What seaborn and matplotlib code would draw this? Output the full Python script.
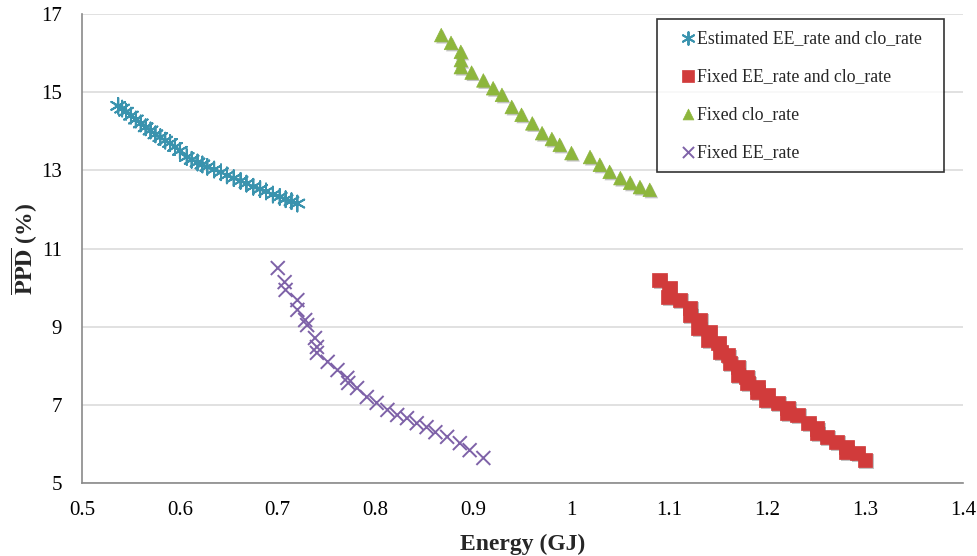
import matplotlib
matplotlib.use("Agg")
import matplotlib.pyplot as plt
import matplotlib.patheffects as pe
import seaborn as sns
import pandas as pd

# ---- data ----
est_x = [0.537, 0.541, 0.545, 0.550, 0.555, 0.560, 0.565, 0.570, 0.575, 0.580, 0.585, 0.590,
         0.595, 0.600, 0.607, 0.612, 0.618, 0.623, 0.628, 0.635, 0.642, 0.648, 0.655, 0.662,
         0.668, 0.675, 0.682, 0.688, 0.695, 0.702, 0.708, 0.714, 0.720]
est_y = [14.65, 14.58, 14.50, 14.40, 14.30, 14.20, 14.10, 14.02, 13.92, 13.85, 13.76, 13.70,
         13.60, 13.50, 13.34, 13.27, 13.20, 13.15, 13.09, 13.02, 12.95, 12.87, 12.80, 12.73,
         12.66, 12.58, 12.52, 12.46, 12.38, 12.32, 12.26, 12.21, 12.15]

fix_x = [1.090, 1.100, 1.099, 1.111, 1.121, 1.121, 1.131, 1.130, 1.141, 1.140, 1.150, 1.152,
         1.160, 1.162, 1.170, 1.170, 1.179, 1.180, 1.190, 1.190, 1.200, 1.199, 1.211, 1.221,
         1.221, 1.231, 1.242, 1.251, 1.251, 1.261, 1.271, 1.281, 1.281, 1.292, 1.300]
fix_y = [10.19, 9.99, 9.76, 9.68, 9.48, 9.30, 9.17, 8.97, 8.86, 8.66, 8.58, 8.35,
         8.27, 8.07, 7.97, 7.76, 7.71, 7.56, 7.46, 7.33, 7.25, 7.12, 7.05, 6.92,
         6.79, 6.74, 6.53, 6.40, 6.28, 6.18, 6.05, 5.92, 5.79, 5.77, 5.59]

clo_x = [0.867, 0.877, 0.887, 0.887, 0.887, 0.898, 0.910, 0.920, 0.929, 0.939, 0.949, 0.960,
         0.970, 0.980, 0.988, 1.000, 1.019, 1.029, 1.039, 1.050, 1.060, 1.070, 1.080]
clo_y = [16.46, 16.26, 16.03, 15.82, 15.64, 15.50, 15.30, 15.10, 14.93, 14.62, 14.42, 14.20,
         13.95, 13.80, 13.65, 13.44, 13.34, 13.14, 12.96, 12.80, 12.68, 12.57, 12.50]

ee_x = [0.700, 0.707, 0.708, 0.720, 0.720, 0.728, 0.730, 0.738, 0.740, 0.740, 0.751, 0.761,
        0.771, 0.772, 0.781, 0.791, 0.801, 0.812, 0.822, 0.832, 0.842, 0.852, 0.861, 0.873,
        0.886, 0.896, 0.910]
ee_y = [10.50, 10.14, 9.94, 9.68, 9.43, 9.17, 9.04, 8.71, 8.48, 8.33, 8.10, 7.89,
        7.69, 7.56, 7.43, 7.20, 7.05, 6.87, 6.74, 6.66, 6.53, 6.43, 6.30, 6.18,
        6.02, 5.84, 5.64]

labels = ["Estimated EE_rate and clo_rate", "Fixed EE_rate and clo_rate",
          "Fixed clo_rate", "Fixed EE_rate"]
x_ticks = [0.5, 0.6, 0.7, 0.8, 0.9, 1.0, 1.1, 1.2, 1.3, 1.4]
x_tick_labels = ["0.5", "0.6", "0.7", "0.8", "0.9", "1", "1.1", "1.2", "1.3", "1.4"]
y_ticks = [5, 7, 9, 11, 13, 15, 17]

colors = ["#3A93AE", "#D13B3B", "#8DB63C", "#7E62A8"]
markers = [(6, 2, 0), "s", "^", "x"]
sizes = [130, 110, 95, 100]

sns.set_theme(style="white")
plt.rcParams["font.family"] = ["Liberation Serif", "DejaVu Serif"]
plt.rcParams["mathtext.fontset"] = "stix"

fig = plt.figure(figsize=(9.78, 5.56), dpi=100)
ax = fig.add_axes([82 / 978, 73 / 556, 881 / 978, 469 / 556])

series = [(est_x, est_y), (fix_x, fix_y), (clo_x, clo_y), (ee_x, ee_y)]
shadow = [pe.SimplePatchShadow(offset=(1.2, -1.2), alpha=0.35, shadow_rgbFace="#555555"), pe.Normal()]
for (xs, ys), lab, col, mk, sz in zip(series, labels, colors, markers, sizes):
    df = pd.DataFrame({"Energy": xs, "PPD": ys})
    if mk in ("x", (6, 2, 0)):
        sns.scatterplot(data=df, x="Energy", y="PPD", ax=ax, marker=mk, color=col,
                        s=sz, linewidth=1.4, label=lab, zorder=3)
    else:
        sns.scatterplot(data=df, x="Energy", y="PPD", ax=ax, marker=mk, color=col,
                        s=sz, edgecolor=col, linewidth=0.5, label=lab, zorder=3)
    ax.collections[-1].set_path_effects(shadow)

ax.set_xlim(0.5, 1.4)
ax.set_ylim(5, 17)
ax.set_xticks(x_ticks)
ax.set_xticklabels(x_tick_labels)
ax.set_yticks(y_ticks)
ax.tick_params(axis="both", labelsize=15, labelcolor="black", color="#8a8a8a",
               width=1, direction="out")
ax.tick_params(axis="x", length=3, pad=10)
ax.tick_params(axis="y", length=5, pad=9.5)
ax.yaxis.grid(True, color="#dcdcdc", linewidth=1.2)
ax.xaxis.grid(False)
for s in ["top", "right"]:
    ax.spines[s].set_visible(False)
for s in ["left", "bottom"]:
    ax.spines[s].set_color("#8a8a8a")
    ax.spines[s].set_linewidth(1.2)

ax.set_xlabel("Energy (GJ)", fontsize=17, fontweight="bold", labelpad=10)
ax.set_ylabel(r"$\mathbf{\overline{PPD}}$ (%)", fontsize=17, fontweight="bold", labelpad=1)

leg = ax.legend(loc="upper right", bbox_to_anchor=(0.6527, 0.6593, 0.3258, 0.33), mode="expand",
                frameon=True, fancybox=False,
                edgecolor="black", fontsize=12.8, handletextpad=-0.6, handlelength=2.25,
                labelspacing=1.19, borderpad=0.6, borderaxespad=0.0, markerscale=0.8)
leg.get_frame().set_linewidth(1.2)
for h in leg.legend_handles:
    h.set_path_effects([])

fig.savefig("out.png", dpi=100)
